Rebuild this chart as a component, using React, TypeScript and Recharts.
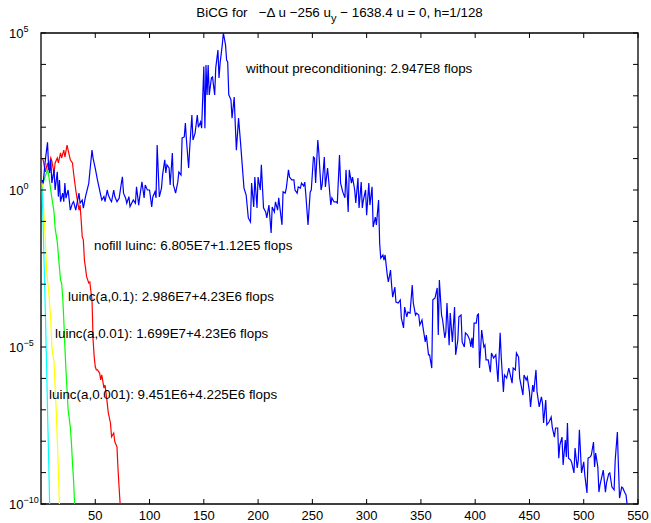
import { LineChart, Line, XAxis, YAxis, ReferenceArea } from "recharts";

const FONT = '"Liberation Sans", Arial, Helvetica, sans-serif';

// plot box (chart margin + axis sizes)
const W = 651;
const H = 523;
const LEFT = 41;
const RIGHT = 638;
const TOP = 33;
const BOTTOM = 504;

const xTicks = [50, 100, 150, 200, 250, 300, 350, 400, 450, 500, 550];
const yTicks = [
  1e-10, 1e-9, 1e-8, 1e-7, 1e-6, 1e-5, 1e-4, 1e-3, 1e-2, 1e-1, 1e0, 1e1, 1e2, 1e3, 1e4, 1e5,
];
const yLabelled = [5, 0, -5, -10];

// [iteration, log10 residual]
const blueLog10: [number, number][] = [
  [1, 0.32], [2, 0.21], [4, 0.96], [6, 1.52], [7, 0.74], [8, 0.54], [9, 0.96], [10, 0.22],
  [12, 0.64], [13, 0.0], [15, 0.58], [16, -0.21], [17, 0.32], [18, -0.37], [20, -0.1], [21, -0.37],
  [22, 0.22], [23, -0.26], [25, 0.0], [27, -0.64], [29, -0.42], [30, -0.37], [32, -0.64], [35, -0.1],
  [36, -0.42], [38, -0.32], [39, -0.58], [41, -0.21], [44, 0.21], [45, 0.58], [47, 1.27], [48, 1.01],
  [50, 0.69], [52, 0.32], [53, 0.16], [55, -0.16], [56, -0.32], [58, -0.21], [59, -0.37], [61, 0.0],
  [62, -0.16], [64, -0.32], [65, -0.37], [67, 0.0], [68, -0.21], [70, -0.37], [72, -0.26], [74, 0.21],
  [75, 0.42], [76, -0.1], [78, -0.26], [79, -0.42], [81, -0.21], [82, -0.53], [85, -0.32], [87, -0.42],
  [88, 0.1], [90, -0.48], [91, -0.21], [93, 0.26], [95, -0.25], [96, 0.16], [98, 0.0], [100, 0.0],
  [102, -0.54], [103, -0.22], [105, -0.06], [106, -0.25], [107, 1.43], [109, -0.22], [111, 0.06],
  [112, 0.48], [114, 0.96], [115, 0.54], [116, 0.8], [118, 0.7], [119, 0.16], [121, 1.18], [122, 0.16],
  [124, -0.1], [126, 0.25], [127, 0.57], [129, 0.48], [130, 1.66], [132, 1.69], [133, 2.13], [134, 1.59],
  [136, 0.7], [137, 1.34], [139, 2.39], [140, 1.59], [142, 1.82], [144, 2.39], [145, 2.0], [147, 2.17],
  [148, 1.97], [150, 3.93], [151, 1.97], [152, 3.98], [153, 3.03], [154, 3.98], [155, 3.03], [157, 3.57],
  [158, 3.6], [160, 3.03], [161, 3.89], [163, 4.46], [164, 3.57], [165, 4.04], [167, 4.62], [168, 5.0],
  [170, 4.62], [171, 4.14], [172, 4.08], [173, 3.03], [175, 2.87], [176, 2.29], [178, 2.96], [179, 2.07],
  [180, 1.27], [182, 2.29], [184, 1.43], [187, 0.06], [189, -0.16], [191, -0.89], [193, -1.02],
  [194, 0.22], [196, -0.54], [197, 0.41], [199, -0.57], [200, 0.41], [202, 0.0], [203, 0.8], [205, -0.57],
  [207, -0.7], [208, -0.89], [210, -0.48], [212, -1.37], [213, -0.54], [215, -0.7], [216, -0.38],
  [218, -0.64], [219, -0.25], [222, -1.11], [223, -0.06], [225, -0.1], [226, 0.06], [228, 0.64],
  [229, 0.41], [231, 0.32], [233, 0.32], [234, 0.0], [236, -0.1], [237, 0.1], [239, 0.06], [240, 0.22],
  [242, 0.13], [243, 0.25], [244, -0.16], [246, -1.11], [248, -0.06], [249, 0.0], [251, 1.05],
  [252, 1.02], [253, 0.22], [255, 1.59], [256, 1.18], [258, 0.0], [259, 0.16], [261, 1.05], [262, 0.1],
  [264, 0.7], [265, 0.32], [267, -0.48], [268, -0.25], [270, -0.38], [272, -0.38], [273, -0.41],
  [275, 1.11], [276, 0.22], [278, -0.06], [280, -0.25], [281, 0.64], [283, -0.7], [284, 0.64], [286, 0.22],
  [287, 0.41], [289, 0.0], [290, -0.41], [292, 0.38], [293, -0.57], [295, 0.25], [296, -0.57],
  [297, -0.32], [299, 0.0], [300, -0.8], [302, 0.22], [303, -0.48], [305, 0.1], [306, -1.18], [308, -0.86],
  [309, -1.11], [311, -0.32], [312, -1.7], [313, -2.17], [315, -2.07], [316, -2.23], [317, -2.07],
  [319, -2.71], [320, -2.93], [322, -2.55], [323, -3.03], [324, -3.41], [326, -3.09], [327, -3.57],
  [329, -3.6], [331, -3.5], [332, -4.08], [334, -4.39], [335, -3.73], [337, -4.04], [338, -3.89],
  [340, -3.92], [342, -3.03], [343, -3.6], [345, -3.98], [346, -3.92], [348, -3.98], [349, -4.3],
  [351, -4.14], [352, -4.39], [354, -4.84], [355, -4.62], [357, -5.25], [358, -5.25], [360, -5.67],
  [361, -3.5], [363, -3.44], [365, -3.12], [366, -4.62], [367, -2.87], [369, -3.98], [370, -4.14],
  [372, -4.71], [373, -4.52], [374, -3.6], [376, -4.94], [377, -3.92], [379, -4.84], [381, -3.73],
  [382, -5.25], [384, -4.78], [385, -4.04], [387, -3.98], [388, -4.84], [390, -5.0], [391, -4.55],
  [393, -4.62], [395, -4.78], [396, -5.0], [397, -4.71], [398, -5.03], [399, -4.24], [401, -4.24],
  [402, -3.98], [403, -3.95], [404, -5.67], [406, -4.46], [408, -5.0], [409, -4.94], [410, -5.41],
  [412, -5.41], [414, -5.8], [415, -5.19], [417, -5.35], [419, -5.25], [421, -6.11], [423, -4.55],
  [424, -5.32], [426, -6.43], [427, -5.89], [429, -5.99], [431, -5.67], [434, -6.15], [435, -5.67],
  [437, -5.73], [438, -5.19], [440, -5.32], [441, -5.99], [444, -6.53], [445, -5.89], [447, -6.05],
  [448, -5.96], [450, -6.43], [451, -6.91], [453, -6.21], [454, -6.43], [456, -5.73], [457, -6.43],
  [459, -6.91], [461, -6.59], [462, -6.78], [463, -7.42], [465, -6.69], [466, -7.48], [468, -7.39],
  [470, -7.23], [471, -7.55], [473, -7.87], [474, -7.58], [476, -7.58], [477, -8.54], [478, -8.12],
  [480, -7.87], [481, -8.76], [483, -7.96], [484, -8.5], [485, -7.42], [486, -8.54], [488, -8.6],
  [489, -8.69], [491, -9.01], [492, -8.22], [494, -8.85], [495, -8.6], [496, -7.64], [498, -9.01],
  [500, -8.66], [501, -9.08], [503, -9.65], [504, -8.54], [506, -8.5], [507, -8.44], [509, -8.03],
  [510, -8.82], [511, -8.38], [513, -8.82], [514, -9.62], [515, -9.39], [517, -9.08], [518, -8.92],
  [520, -9.62], [521, -9.33], [523, -9.04], [524, -9.01], [526, -9.46], [528, -9.55], [529, -8.6],
  [531, -7.71], [532, -8.82], [533, -9.81], [535, -9.46], [536, -9.49], [538, -9.65], [539, -9.71],
  [540, -10.03],
];

const redLog10: [number, number][] = [
  [1, 1.02], [2, 0.96], [4, 0.58], [6, 0.86], [7, 0.64], [9, 1.02], [10, 0.92], [12, 0.54], [13, 0.86],
  [15, 1.02], [16, 0.86], [18, 1.18], [19, 1.02], [21, 1.27], [22, 1.05], [24, 1.43], [25, 1.27],
  [27, 0.96], [29, 0.86], [30, 0.54], [32, 0.0], [33, -0.22], [35, -0.64], [36, -0.48], [37, -0.96],
  [38, -1.49], [39, -1.59], [40, -2.23], [41, -2.48], [42, -2.76], [44, -2.96], [45, -2.93], [46, -3.24],
  [47, -3.5], [48, -4.78], [49, -5.31], [50, -5.63], [51, -5.73], [52, -5.73], [54, -5.83], [55, -6.05],
  [56, -5.89], [58, -6.31], [59, -6.21], [61, -6.78], [62, -7.1], [64, -7.42], [65, -7.86], [67, -7.74],
  [68, -8.02], [70, -8.18], [71, -8.92], [72, -9.5], [73, -10.05],
];

const greenLog10: [number, number][] = [
  [1, 0.1], [2, 0.22], [4, 0.45], [6, 0.64], [7, 0.48], [9, 0.0], [10, -0.25], [12, -0.7], [13, -1.21],
  [15, -1.66], [16, -2.07], [18, -2.87], [19, -2.96], [20, -3.41], [21, -4.14], [22, -5.0], [23, -5.73],
  [24, -6.37], [25, -7.0], [27, -7.55], [28, -8.03], [29, -8.69], [30, -9.24], [31, -10.05],
];

const yellowLog10: [number, number][] = [
  [1, 0.22], [2, -0.32], [3, -0.96], [4, -1.59], [5, -2.44], [6, -2.87], [7, -3.18], [8, -3.66],
  [9, -4.14], [10, -4.99], [11, -5.25], [12, -5.48], [13, -6.26], [14, -7.0], [15, -7.96], [16, -8.92],
  [17, -10.05],
];

const cyanLog10: [number, number][] = [
  [1, 0.1], [2, -1.2], [3, -2.5], [4, -3.9], [5, -5.4], [6, -7.0], [7, -8.5], [8, -10.05],
];

const toPoints = (rows: [number, number][]) => rows.map(([x, e]) => ({ x, y: 10 ** e }));

const series = [
  { name: "nofill luinc", color: "#ff0000", data: toPoints(redLog10) },
  { name: "luinc(a,0.1)", color: "#00ff00", data: toPoints(greenLog10) },
  { name: "luinc(a,0.01)", color: "#ffff00", data: toPoints(yellowLog10) },
  { name: "luinc(a,0.001)", color: "#00ffff", data: toPoints(cyanLog10) },
  { name: "without preconditioning", color: "#0000ff", data: toPoints(blueLog10) },
];

const notes = [
  { text: "without preconditioning: 2.947E8 flops", x: 246, y: 73 },
  { text: "nofill luinc: 6.805E7+1.12E5 flops", x: 94, y: 250 },
  { text: "luinc(a,0.1): 2.986E7+4.23E6 flops", x: 68, y: 301 },
  { text: "luinc(a,0.01): 1.699E7+4.23E6 flops", x: 55, y: 338 },
  { text: "luinc(a,0.001): 9.451E6+4.225E6 flops", x: 49, y: 399 },
];

const TEXT_SIZE = 13.4;

function YTick(props: any) {
  const { y, payload } = props;
  const exp = Math.round(Math.log10(payload.value));
  return (
    <g>
      <line x1={LEFT} x2={LEFT + 5} y1={y} y2={y} stroke="#000" strokeWidth={1} />
      <line x1={RIGHT} x2={RIGHT - 5} y1={y} y2={y} stroke="#000" strokeWidth={1} />
      {yLabelled.includes(exp) && (
        <text x={9} y={y + 5} fontSize={13} fontFamily={FONT} fill="#000">
          10
          <tspan dy={-6} fontSize={9}>
            {exp < 0 ? `\u2212${-exp}` : String(exp)}
          </tspan>
        </text>
      )}
    </g>
  );
}

function XTick(props: any) {
  const { x, payload } = props;
  return (
    <g>
      <line x1={x} x2={x} y1={BOTTOM} y2={BOTTOM - 5} stroke="#000" strokeWidth={1} />
      <line x1={x} x2={x} y1={TOP} y2={TOP + 5} stroke="#000" strokeWidth={1} />
      <text x={x} y={BOTTOM + 16} textAnchor="middle" fontSize={13} fontFamily={FONT} fill="#000">
        {payload.value}
      </text>
    </g>
  );
}

export default function App() {
  return (
    <div style={{ position: "absolute", left: 0, top: 0, width: W, height: H, background: "#fff" }}>
      <LineChart
        width={W}
        height={H}
        margin={{ top: TOP, right: W - RIGHT, bottom: 0, left: 0 }}
      >
        <XAxis
          type="number"
          dataKey="x"
          domain={[0, 550]}
          ticks={xTicks}
          interval={0}
          height={H - BOTTOM}
          axisLine={false}
          tickLine={false}
          tick={<XTick />}
          allowDataOverflow
        />
        <YAxis
          type="number"
          scale="log"
          domain={[1e-10, 1e5]}
          ticks={yTicks}
          interval={0}
          width={LEFT}
          axisLine={false}
          tickLine={false}
          tick={<YTick />}
          allowDataOverflow
        />
        {series.map((s) => (
          <Line
            key={s.name}
            name={s.name}
            data={s.data}
            dataKey="y"
            type="linear"
            stroke={s.color}
            strokeWidth={1.2}
            dot={false}
            activeDot={false}
            isAnimationActive={false}
          />
        ))}
        <ReferenceArea
          x1={0}
          x2={550}
          y1={1e-10}
          y2={1e5}
          fill="none"
          fillOpacity={0}
          stroke="#000"
          strokeWidth={1.3}
        />
      </LineChart>
      <svg
        width={W}
        height={H}
        style={{ position: "absolute", left: 0, top: 0, pointerEvents: "none" }}
      >
        <text
          x={(LEFT + RIGHT) / 2}
          y={17}
          textAnchor="middle"
          fontSize={TEXT_SIZE}
          fontFamily={FONT}
          fill="#000"
          style={{ whiteSpace: "pre" }}
        >
          {"BiCG for   \u2212\u0394 u \u2212256 u"}
          <tspan dy={5} fontSize={11}>y</tspan>
          <tspan dy={-5}>{" \u2212 1638.4 u = 0, h=1/128"}</tspan>
        </text>
        {notes.map((n) => (
          <text key={n.text} x={n.x} y={n.y} fontSize={TEXT_SIZE} fontFamily={FONT} fill="#000">
            {n.text}
          </text>
        ))}
      </svg>
    </div>
  );
}
